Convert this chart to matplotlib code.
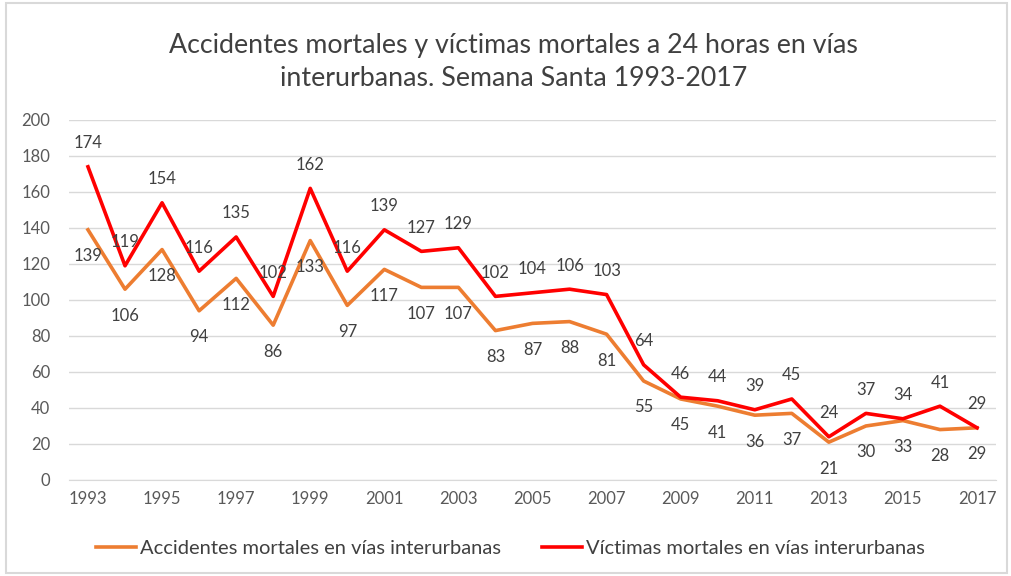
import matplotlib
matplotlib.use("Agg")
import matplotlib.pyplot as plt
from matplotlib.patches import Rectangle

years = [str(y) for y in range(1993, 2018)]
accidentes = [139, 106, 128, 94, 112, 86, 133, 97, 117, 107, 107, 83, 87, 88, 81,
              55, 45, 41, 36, 37, 21, 30, 33, 28, 29]
victimas = [174, 119, 154, 116, 135, 102, 162, 116, 139, 127, 129, 102, 104, 106, 103,
            64, 46, 44, 39, 45, 24, 37, 34, 41, 29]

plt.rcParams['font.family'] = ['Lato', 'DejaVu Sans']

fig = plt.figure(figsize=(10.11, 5.76), dpi=100)
ax = fig.add_axes([0.0687, 0.1667, 0.916, 0.625])

x = list(range(len(years)))
ax.plot(x, accidentes, color='#ED7D31', lw=2.6, solid_joinstyle='round', zorder=3,
        label='Accidentes mortales en vías interurbanas')
ax.plot(x, victimas, color='#FF0000', lw=2.6, solid_joinstyle='round', zorder=4,
        label='Víctimas mortales en vías interurbanas')

lblc = '#404040'
for i in x:
    ax.annotate(str(victimas[i]), (i, victimas[i]), xytext=(0, 17), textcoords='offset points',
                ha='center', va='center', fontsize=12, color=lblc, zorder=5)
    ax.annotate(str(accidentes[i]), (i, accidentes[i]), xytext=(0, -19), textcoords='offset points',
                ha='center', va='center', fontsize=12, color=lblc, zorder=5)

ax.set_xlim(-0.5, len(years) - 0.5)
ax.set_ylim(0, 200)
ax.set_yticks(range(0, 201, 20))
ax.set_xticks(x[::2])
ax.set_xticklabels(years[::2])
ax.grid(axis='y', color='#D9D9D9', lw=1)
ax.set_axisbelow(True)
for s in ax.spines.values():
    s.set_visible(False)
ax.spines['bottom'].set_visible(True)
ax.spines['bottom'].set_color('#D9D9D9')
ax.tick_params(axis='both', length=0, labelsize=12, labelcolor='#595959')
ax.tick_params(axis='y', pad=14)
ax.tick_params(axis='x', pad=8)

fig.text(0.508, 0.892, 'Accidentes mortales y víctimas mortales a 24 horas en vías\ninterurbanas. Semana Santa 1993-2017',
         ha='center', va='center', fontsize=19.3, color='#404040', linespacing=1.4)

fig.legend(loc='center', bbox_to_anchor=(0.505, 0.048), ncol=2, frameon=False, fontsize=14.5,
           labelcolor='#404040', handlelength=2.0, columnspacing=2.0, handletextpad=0.2)

fig.patches.append(Rectangle((0.006, 0.005), 0.99, 0.99, transform=fig.transFigure,
                             fill=False, edgecolor='#D9D9D9', lw=1.5))

fig.savefig('out.png', dpi=100)
